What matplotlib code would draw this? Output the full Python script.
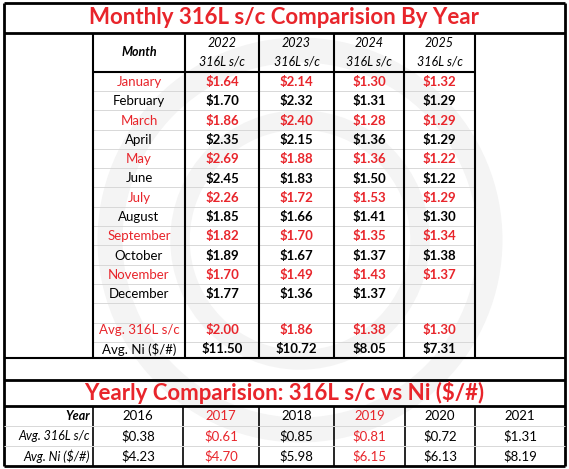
import matplotlib.pyplot as plt

RED = "#e8252b"
months = ["January", "February", "March", "April", "May", "June", "July",
          "August", "September", "October", "November", "December"]
years = ["2022", "2023", "2024", "2025"]
v2022 = ["$1.64", "$1.70", "$1.86", "$2.35", "$2.69", "$2.45", "$2.26", "$1.85", "$1.82", "$1.89", "$1.70", "$1.77"]
v2023 = ["$2.14", "$2.32", "$2.40", "$2.15", "$1.88", "$1.83", "$1.72", "$1.66", "$1.70", "$1.67", "$1.49", "$1.36"]
v2024 = ["$1.30", "$1.31", "$1.28", "$1.36", "$1.36", "$1.50", "$1.53", "$1.41", "$1.35", "$1.37", "$1.43", "$1.37"]
v2025 = ["$1.32", "$1.29", "$1.29", "$1.29", "$1.22", "$1.22", "$1.29", "$1.30", "$1.34", "$1.38", "$1.37", ""]
avg316 = ["$2.00", "$1.86", "$1.38", "$1.30"]
avgni = ["$11.50", "$10.72", "$8.05", "$7.31"]
y_years = ["2016", "2017", "2018", "2019", "2020", "2021"]
y_316 = ["$0.38", "$0.61", "$0.85", "$0.81", "$0.72", "$1.31"]
y_ni = ["$4.23", "$4.70", "$5.98", "$6.15", "$6.13", "$8.19"]

plt.rcParams['font.family'] = ['Lato', 'DejaVu Sans']
fig = plt.figure(figsize=(5.69, 4.69), dpi=100)
ax = fig.add_axes([0, 0, 1, 1])
ax.set_xlim(0, 569)
ax.set_ylim(469, 0)
ax.axis("off")

# faint watermark
for r, lw in [(190, 18), (120, 14)]:
    ax.add_patch(plt.Circle((300, 240), r, fill=False, color="#f4f4f4", lw=lw, zorder=0))

def hl(y, x0, x1, c="k", lw=1.5):
    ax.plot([x0, x1], [y, y], color=c, lw=lw, solid_capstyle="butt")

def vl(x, y0, y1, c="k", lw=1.5):
    ax.plot([x, x], [y0, y1], color=c, lw=lw, solid_capstyle="butt")

L, R = 4, 565
hl(3, L, R, lw=2); hl(466, L, R, lw=2); vl(L, 3, 466, lw=2); vl(R, 3, 466, lw=2)
ax.text(284, 18, "Monthly 316L s/c Comparision By Year", color=RED, fontsize=16,
        fontweight="bold", ha="center", va="center")
hl(33, L, R, lw=2)

cols = [93, 185, 259, 334, 404, 475]
centers = [(cols[i] + cols[i + 1]) / 2 for i in range(5)]
rows = [82 + 19.3 * i for i in range(12)]
row_avg, row_ni = 330, 349
bottom = 358

for y in [91 + 19.3 * i for i in range(14)]:
    if y < bottom - 3:
        hl(y, cols[0], cols[-1], c="#d8d8d8", lw=0.7)
for x in cols:
    vl(x, 33, bottom, lw=1.5)
hl(72, cols[0], cols[-1], lw=1.5)

ax.text(centers[0], 52, "Month", fontsize=9, style="italic", fontweight="bold", ha="center", va="center")
for i, yr in enumerate(years):
    ax.text(centers[i + 1], 43, yr, fontsize=9, style="italic", ha="center", va="center")
    ax.text(centers[i + 1], 62, "316L s/c", fontsize=9, style="italic", ha="center", va="center")

series = [v2022, v2023, v2024, v2025]
for j, m in enumerate(months):
    c = RED if j % 2 == 0 else "black"
    y = rows[j]
    ax.text(centers[0], y, m, color=c, fontsize=9.5, ha="center", va="center")
    for i, s in enumerate(series):
        ax.text(centers[i + 1], y, s[j], color=c, fontsize=9.5, fontweight="bold", ha="center", va="center")

ax.text(centers[0], row_avg, "Avg. 316L s/c", color=RED, fontsize=9.5, ha="center", va="center")
ax.text(centers[0], row_ni, "Avg. Ni ($/#)", color="black", fontsize=9.5, ha="center", va="center")
for i in range(4):
    ax.text(centers[i + 1], row_avg, avg316[i], color=RED, fontsize=9.5, fontweight="bold", ha="center", va="center")
    ax.text(centers[i + 1], row_ni, avgni[i], color="black", fontsize=9.5, fontweight="bold", ha="center", va="center")

hl(bottom, L, R, lw=1.5)
hl(380, L, R, lw=2)
ax.text(284, 393, "Yearly Comparision: 316L s/c vs Ni ($/#)", color=RED, fontsize=16,
        fontweight="bold", ha="center", va="center")
hl(406, L, R, lw=2)

bcols = [L, 93, 183, 259, 334, 405, 475, R]
bc = [(bcols[i] + bcols[i + 1]) / 2 for i in range(1, 7)]
for x in bcols[1:-1]:
    vl(x, 406, 466, lw=1.2)
for y in [426, 446]:
    hl(y, L, R, c="#d8d8d8", lw=0.7)
brow = [416, 436, 456]
labels = ["Year", "Avg. 316L s/c", "Avg. Ni ($/#)"]
for k, lab in enumerate(labels):
    ax.text(90, brow[k], lab, fontsize=9, style="italic", fontweight="bold" if k == 0 else "normal",
            ha="right", va="center")
for i in range(6):
    c = RED if i in (1, 3) else "black"
    for k, vals in enumerate([y_years, y_316, y_ni]):
        ax.text(bc[i], brow[k], vals[i], color=c, fontsize=9.5, ha="center", va="center")

fig.savefig("out.png", dpi=100)
